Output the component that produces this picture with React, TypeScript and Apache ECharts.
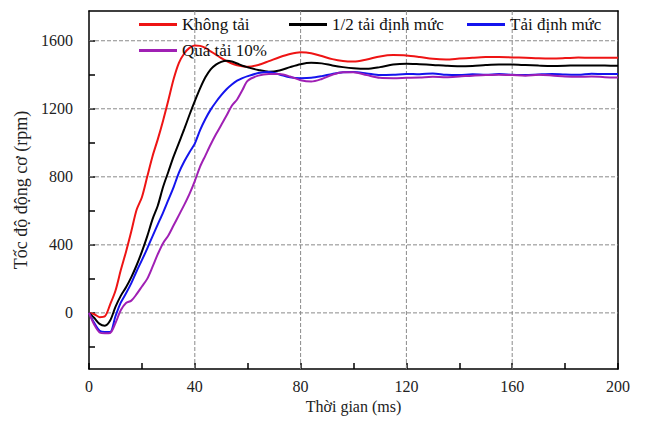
import React, { useEffect, useRef } from "react";
import * as echarts from "echarts";

const seriesNames = ["Không tải", "1/2 tải định mức", "Tải định mức", "Quá tải 10%"];

const timeMs = [
  0, 2, 4, 6, 8, 10, 12, 14, 16, 18, 20, 22, 24, 26, 28, 30, 32, 34, 36, 38, 40, 42, 44, 46, 48, 50, 52, 54, 56, 58,
  60, 64, 68, 72, 76, 80, 84, 88, 92, 96, 100, 105, 110, 115, 120, 125, 130, 135, 140, 145, 150, 155, 160, 165, 170,
  175, 180, 185, 190, 195, 200,
];

const noLoad = [
  0, -8, -25, -20, 50, 130, 250, 360, 480, 606, 680, 800, 920, 1020, 1130, 1250, 1375, 1470, 1525, 1558, 1572, 1570,
  1558, 1538, 1518, 1498, 1480, 1466, 1456, 1450, 1447, 1458, 1480, 1503, 1522, 1532, 1527, 1510, 1492, 1481, 1478,
  1490, 1508, 1516, 1514, 1505, 1494, 1490, 1495, 1500, 1504, 1505, 1502, 1500, 1497, 1496, 1498, 1501, 1500, 1500, 1500,
];

const halfLoad = [
  0, -30, -65, -75, -45, 35, 100, 150, 210, 280, 360, 450, 550, 630, 740, 830, 920, 1000, 1080, 1165, 1245, 1320,
  1385, 1432, 1460, 1476, 1482, 1478, 1466, 1453, 1444, 1428, 1418, 1425, 1445, 1462, 1470, 1467, 1455, 1445, 1438,
  1435, 1445, 1460, 1465, 1462, 1458, 1453, 1450, 1452, 1457, 1460, 1460, 1457, 1454, 1452, 1453, 1455, 1455, 1454, 1453,
];

const ratedLoad = [
  0, -60, -105, -112, -112, -20, 60, 115, 175, 245, 310, 378, 450, 520, 590, 665, 740, 825, 890, 945, 995, 1075, 1140,
  1195, 1240, 1280, 1315, 1343, 1365, 1380, 1392, 1410, 1417, 1402, 1385, 1380, 1382, 1392, 1405, 1415, 1417, 1408,
  1398, 1400, 1405, 1403, 1408, 1400, 1398, 1403, 1400, 1404, 1400, 1398, 1402, 1405, 1401, 1400, 1406, 1404, 1404,
];

const overLoad = [
  0, -70, -115, -120, -118, -60, 15, 58, 72, 110, 155, 200, 270, 345, 410, 455, 515, 575, 635, 700, 775, 860, 925, 990,
  1050, 1105, 1160, 1218, 1255, 1310, 1365, 1395, 1405, 1405, 1390, 1368, 1360, 1375, 1400, 1415, 1415, 1398, 1382,
  1380, 1382, 1384, 1388, 1386, 1390, 1395, 1398, 1400, 1398, 1395, 1400, 1396, 1390, 1388, 1390, 1386, 1384,
];

const colors = ["#ee1414", "#000000", "#1414ee", "#a020b4"];
const yLabelValues = [0, 400, 800, 1200, 1600];
const yTickValues = [-200, 0, 200, 400, 600, 800, 1000, 1200, 1400, 1600];
const xGridValues = [40, 80, 120, 160];
const legendPos = [
  { left: 139, top: 16 },
  { left: 289, top: 16 },
  { left: 467, top: 16 },
  { left: 139, top: 42 },
];

const X_MIN = 0;
const X_MAX = 200;
const Y_MIN = -330;
const Y_MAX = 1775;

const FONT = "'Liberation Serif', 'Times New Roman', serif";

export default function App() {
  const ref = useRef<HTMLDivElement>(null);
  useEffect(() => {
    if (!ref.current) return;
    const chart = echarts.init(ref.current, undefined, { renderer: "svg" });
    const allValues = [noLoad, halfLoad, ratedLoad, overLoad];
    const gridLineStyle = { color: "#8a8a8a", type: "dashed", width: 1 };
    const lineSeries = allValues.map((vals, i) => ({
      name: seriesNames[i],
      type: "line",
      data: timeMs.map((t, k) => [t, vals[k]]),
      symbol: "none",
      smooth: 0.3,
      z: 3 + i,
      lineStyle: { color: colors[i], width: 2 },
      itemStyle: { color: colors[i] },
    }));
    const hGrid = yLabelValues.map((v) => ({
      name: "hgrid" + v,
      type: "line",
      data: [
        [X_MIN, v],
        [X_MAX, v],
      ],
      symbol: "none",
      silent: true,
      z: 1,
      lineStyle: gridLineStyle,
      itemStyle: { color: "#8a8a8a" },
    }));
    const vGrid = xGridValues.map((v) => ({
      name: "vgrid" + v,
      type: "line",
      data: [
        [v, Y_MIN],
        [v, Y_MAX],
      ],
      symbol: "none",
      silent: true,
      z: 1,
      lineStyle: gridLineStyle,
      itemStyle: { color: "#8a8a8a" },
    }));
    const frameAxis = {
      axisLine: { show: true, onZero: false, lineStyle: { color: "#000", width: 1.5 } },
      axisTick: { show: false },
      axisLabel: { show: false },
      splitLine: { show: false },
    };
    chart.setOption({
      animation: false,
      backgroundColor: "#ffffff",
      grid: {
        left: 89,
        right: 27,
        top: 11,
        bottom: 56,
      },
      legend: legendPos.map((p, i) => ({
        data: [seriesNames[i]],
        left: p.left,
        top: p.top,
        padding: 0,
        icon: "rect",
        itemWidth: 38,
        itemHeight: 3,
        textStyle: { fontFamily: FONT, fontSize: 17, color: "#111" },
      })),
      xAxis: [
        {
          type: "value",
          min: X_MIN,
          max: X_MAX,
          interval: 40,
          name: "Thời gian (ms)",
          nameLocation: "middle",
          nameGap: 27,
          nameTextStyle: { fontFamily: FONT, fontSize: 16, color: "#222" },
          axisLine: { onZero: false, lineStyle: { color: "#000", width: 1.5 } },
          axisTick: { show: true, inside: true, length: 6, lineStyle: { color: "#000", width: 1.5 } },
          minorTick: { show: true, splitNumber: 2, length: 6, lineStyle: { color: "#000", width: 1.5 } },
          axisLabel: { fontFamily: FONT, fontSize: 16, color: "#222", margin: 9, formatter: (v: number) => String(v) },
          splitLine: { show: false },
        },
        { type: "value", position: "top", min: X_MIN, max: X_MAX, interval: 40, ...frameAxis },
      ],
      yAxis: [
        {
          type: "value",
          min: Y_MIN,
          max: Y_MAX,
          name: "Tốc độ động cơ (rpm)",
          nameLocation: "middle",
          nameGap: 59,
          nameTextStyle: { fontFamily: FONT, fontSize: 18, color: "#222" },
          axisLine: { show: true, onZero: false, lineStyle: { color: "#000", width: 1.5 } },
          axisTick: {
            show: true,
            inside: true,
            length: 6,
            customValues: yTickValues,
            lineStyle: { color: "#000", width: 1.5 },
          },
          axisLabel: {
            fontFamily: FONT,
            fontSize: 16,
            color: "#222",
            margin: 16,
            customValues: yLabelValues,
            formatter: (v: number) => String(v),
          },
          splitLine: { show: false },
        },
        { type: "value", position: "right", min: Y_MIN, max: Y_MAX, ...frameAxis },
      ],
      series: [...hGrid, ...vGrid, ...lineSeries],
    });
    return () => chart.dispose();
  }, []);
  return (
    <div
      ref={ref}
      style={{ position: "fixed", left: 0, top: 0, width: 645, height: 425, background: "#fff" }}
    />
  );
}
